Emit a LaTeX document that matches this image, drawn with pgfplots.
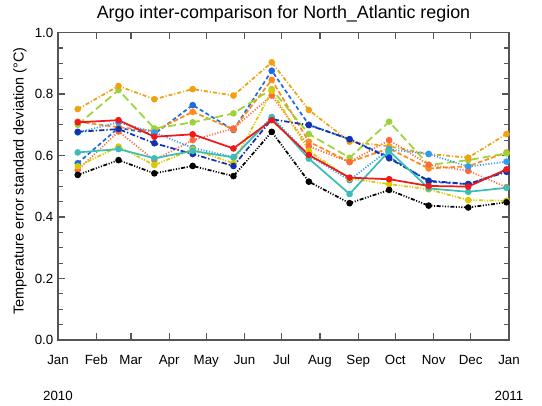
\documentclass[border=0pt]{standalone}
\usepackage{fontspec}
\setmainfont{Liberation Sans}
\usepackage{pgfplots}
\usepackage{pgfplotstable}
\pgfplotsset{compat=1.18}

\definecolor{cOrangeTop}{HTML}{EFA20C}
\definecolor{cGreen}{HTML}{9CD438}
\definecolor{cRed}{HTML}{F01818}
\definecolor{cBlueDash}{HTML}{1E6CE0}
\definecolor{cOrange}{HTML}{FF8A1E}
\definecolor{cDarkBlue}{HTML}{1232B0}
\definecolor{cLightBlue}{HTML}{2E9CF2}
\definecolor{cSalmon}{HTML}{FF6A3A}
\definecolor{cYellow}{HTML}{DCCA00}
\definecolor{cTeal}{HTML}{3CBDB8}
\definecolor{cFrame}{HTML}{555555}

% x = day of year 2010, one point per month
\pgfplotstableread{
x   otop  green red   bdash orng  dblue lblue salm  yell  teal  blk
16  0.751 0.700 0.708 0.575 0.710 0.677 0.675 0.553 0.565 0.610 0.537
49  0.826 0.813 0.715 0.690 0.692 0.686 0.708 0.678 0.629 0.621 0.585
78  0.783 0.688 0.661 0.670 0.680 0.640 0.675 0.585 0.569 0.591 0.542
109 0.816 0.708 0.669 0.764 0.742 0.605 0.625 0.650 0.620 0.615 0.566
142 0.795 0.737 0.623 0.683 0.685 0.566 0.595 0.688 0.575 0.594 0.533
173 0.903 0.816 0.715 0.876 0.846 0.718 0.725 0.795 0.810 0.723 0.677
203 0.748 0.670 0.602 0.700 0.645 0.699 0.600 0.630 0.615 0.590 0.515
236 0.645 0.593 0.528 0.653 0.579 0.653 0.520 0.579 0.525 0.475 0.445
268 0.630 0.710 0.523 0.595 0.623 0.591 0.620 0.650 0.507 0.615 0.488
300 0.605 0.569 0.501 0.515 0.558 0.518 0.605 0.570 0.490 0.493 0.437
332 0.593 0.585 0.499 0.507 0.565 0.507 0.564 0.550 0.455 0.482 0.431
363 0.670 0.607 0.555 0.550 0.610 0.547 0.580 0.497 0.453 0.495 0.448
}\argo

\begin{document}
\begin{tikzpicture}
\useasboundingbox (-43.5pt,-48.75pt) rectangle (363pt,255pt);
\begin{axis}[
  name=ax, at={(0,0)}, anchor=south west,
  scale only axis, width=338.25pt, height=230.6pt,
  xmin=0, xmax=365, ymin=0, ymax=1,
  axis line style={cFrame, line width=1pt},
  every tick/.style={cFrame, line width=0.9pt},
  major tick length=5pt, minor tick length=3.5pt,
  xtick={0,31,59,90,120,151,181,212,243,273,304,334,365},
  xticklabels={Jan,Feb,Mar,Apr,May,Jun,Jul,Aug,Sep,Oct,Nov,Dec,Jan},
  xticklabel style={anchor=base, yshift=-18pt, font=\fontsize{10}{12}\selectfont},
  ytick={0,0.2,0.4,0.6,0.8,1.0},
  minor ytick={0.05,0.1,...,0.96},
  yticklabel style={font=\fontsize{10}{12}\selectfont,
    /pgf/number format/.cd, fixed, fixed zerofill, precision=1, assume math mode=true},
  every axis plot/.append style={line width=1.3pt, mark=*, mark size=1.8pt,
    mark options={solid}},
]
\addplot[cBlueDash, dash pattern=on 3pt off 2pt] table[x=x, y=bdash] {\argo};
\addplot[cOrange, dash pattern=on 3.5pt off 1.8pt] table[x=x, y=orng] {\argo};
\addplot[cGreen, dash pattern=on 6pt off 3pt] table[x=x, y=green] {\argo};
\addplot[cOrangeTop, dash pattern=on 3pt off 1.5pt on 0.8pt off 1.5pt] table[x=x, y=otop] {\argo};
\addplot[cSalmon, dash pattern=on 0.8pt off 1.3pt] table[x=x, y=salm] {\argo};
\addplot[cLightBlue, dash pattern=on 0.8pt off 1.3pt] table[x=x, y=lblue] {\argo};
\addplot[cYellow, dash pattern=on 3pt off 1.2pt on 0.8pt off 1.2pt on 0.8pt off 1.2pt] table[x=x, y=yell] {\argo};
\addplot[black, dash pattern=on 3pt off 1.2pt on 0.8pt off 1.2pt on 0.8pt off 1.2pt on 0.8pt off 1.2pt] table[x=x, y=blk] {\argo};
\addplot[cDarkBlue, dash pattern=on 4pt off 1.5pt on 1pt off 1.5pt] table[x=x, y=dblue] {\argo};
\addplot[cTeal] table[x=x, y=teal] {\argo};
\addplot[cRed] table[x=x, y=red] {\argo};
\end{axis}
\node[font=\fontsize{13.4}{16}\selectfont] at ([yshift=13.9pt]ax.north) {Argo inter-comparison for North\_Atlantic region};
\node[rotate=90, font=\fontsize{10.8}{13}\selectfont] at ([xshift=-28.5pt, yshift=4pt]ax.west) {Temperature error standard deviation (°C)};
\node[anchor=base, font=\fontsize{10}{12}\selectfont] at ([yshift=-45pt]ax.south west) {2010};
\node[anchor=base, font=\fontsize{10}{12}\selectfont] at ([yshift=-45pt]ax.south east) {2011};
\end{tikzpicture}
\end{document}
